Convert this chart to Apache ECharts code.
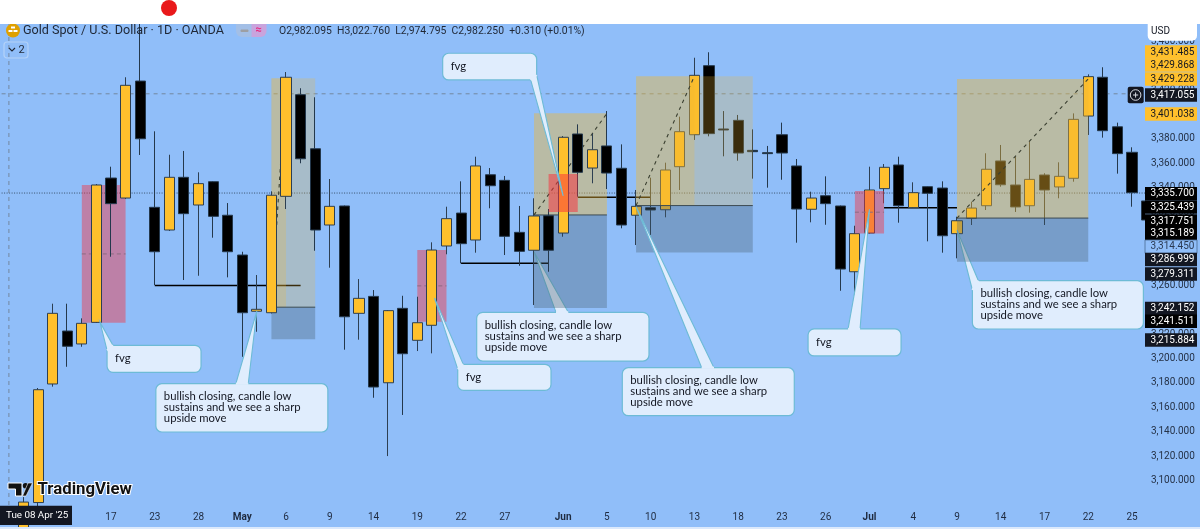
<!DOCTYPE html>
<html><head><meta charset="utf-8">
<style>html,body{margin:0;padding:0;background:#90bef9}#c{width:1200px;height:529px}</style>
<script src="https://cdn.jsdelivr.net/npm/echarts@6/dist/echarts.min.js"></script>
</head><body><div id="c"></div>
<script>
const categories = ['Apr 8','Apr 9','Apr 10','Apr 11','Apr 14','Apr 15','Apr 16','Apr 17','Apr 21','Apr 22','Apr 23','Apr 24','Apr 25','Apr 28','Apr 29','Apr 30','May 1','May 2','May 5','May 6','May 7','May 8','May 9','May 12','May 13','May 14','May 15','May 16','May 19','May 20','May 21','May 22','May 23','May 26','May 27','May 28','May 29','May 30','Jun 2','Jun 3','Jun 4','Jun 5','Jun 6','Jun 9','Jun 10','Jun 11','Jun 12','Jun 13','Jun 16','Jun 17','Jun 18','Jun 19','Jun 20','Jun 23','Jun 24','Jun 25','Jun 26','Jun 27','Jun 30','Jul 1','Jul 2','Jul 3','Jul 4','Jul 7','Jul 8','Jul 9','Jul 10','Jul 11','Jul 14','Jul 15','Jul 16','Jul 17','Jul 18','Jul 21','Jul 22','Jul 23','Jul 24','Jul 25','Jul 28'];
const opens = [2982.1,2982.3,3082,3179.2,3222.6,3212,3229.7,3348,3331.6,3427.5,3324,3305.4,3348.6,3325.9,3345,3317.5,3284.9,3238.8,3237.6,3333,3416.3,3372,3309.5,3325.1,3237.1,3251,3180.2,3241.2,3215,3227.3,3292.3,3319.3,3297.2,3350.7,3346.1,3303.5,3288.8,3317.1,3302.9,3384.1,3356.2,3374.3,3356,3317.5,3323.7,3322,3357.3,3383.5,3440.1,3388.2,3395.3,3370.7,3368.8,3383.5,3357.9,3322.4,3333.5,3325.1,3271.2,3302.9,3339.3,3358.7,3323.7,3340.9,3339.8,3302.4,3315,3325.3,3362,3342.3,3325.3,3350.5,3340.7,3347.8,3398.8,3430.6,3390,3369.1,3329.2];
const closes = [2982.25,3082.4,3174.5,3237.1,3210.1,3228.9,3342.3,3327,3424,3380.2,3287.6,3348.6,3318.8,3343.4,3316.6,3287.6,3237.6,3240.4,3333.9,3430.6,3363.8,3305.4,3324.8,3234.3,3249.4,3176.7,3239.3,3204,3229.4,3289,3314.7,3294.2,3357.9,3341.7,3300.2,3287.9,3316.9,3288.8,3381.4,3352.7,3371.2,3352.1,3309.5,3324.8,3321.8,3354.6,3386,3432.2,3384.4,3387.4,3368.5,3369.6,3368,3368.5,3322.6,3331.6,3327,3273.4,3302.4,3338.2,3356.8,3325.3,3336,3335.5,3300.7,3313,3323.4,3355.2,3342.5,3324.3,3346.9,3338.2,3349.4,3396.1,3431.1,3386.8,3368,3336,3313.6];
const lows = [2974.8,2970,3072,3177,3193.3,3209.7,3229.2,3283.5,3330.8,3366.9,3260.3,3304.6,3264.4,3267.9,3299.1,3266.6,3201.5,3222,3237,3322.6,3360.1,3288.4,3274.5,3207.3,3215.5,3167.9,3120.1,3153.8,3206.2,3204.3,3285.5,3278.1,3286.8,3323.2,3284.9,3276.1,3243.9,3271.2,3299.9,3332.7,3343.7,3339,3306.8,3293.1,3301.3,3315.8,3338.2,3379.2,3382.2,3365.8,3362.2,3347.5,3340.1,3346.6,3295,3311.7,3309.7,3255.6,3244.5,3302.5,3327.3,3311.4,3323.5,3296.1,3286.8,3282.2,3309.5,3321.8,3340.9,3320.2,3319.6,3309.5,3331.4,3345,3383.3,3381.1,3351.6,3324.5,3310];
const highs = [3022.8,3086.5,3175.9,3245,3245,3233,3343.1,3357.3,3430.6,3500,3386.3,3367.1,3370.2,3352.7,3345.5,3327.5,3287.6,3268.5,3337.1,3434.9,3421.6,3414.2,3347.2,3325.5,3265.2,3256.2,3239.8,3251.5,3250.7,3295.3,3324.5,3345.3,3365.5,3356.2,3349.7,3325.1,3331.4,3322.6,3382.4,3392,3384.4,3402.9,3375.6,3338.2,3348.3,3360.6,3398.3,3446.6,3451.1,3402.9,3399.7,3387.9,3374.3,3393.4,3363.6,3336.8,3349.4,3325.5,3308.9,3357.3,3359.5,3365.5,3344.5,3341.2,3345.3,3316.3,3328.6,3368.3,3375.1,3365.5,3377.8,3351.9,3360.9,3401,3433,3438.8,3393.4,3373.2,3335];
const tickCategories = ['Apr 17','Apr 23','Apr 28','May 1','May 6','May 9','May 14','May 19','May 22','May 27','Jun 2','Jun 5','Jun 10','Jun 13','Jun 18','Jun 23','Jun 26','Jul 1','Jul 4','Jul 9','Jul 14','Jul 17','Jul 22','Jul 25'];
const tickTexts = ['17','23','28','May','6','9','14','19','22','27','Jun','5','10','13','18','23','26','Jul','4','9','14','17','22','25'];
// zones: [first bar, last bar, upper price, lower price]
const fvgBack = [[5,8,3342.3,3229.4],[28,30,3289,3230.2]];
const fvgFront = [[37,39,3351.3,3320.2],[58,60,3337.4,3302.5]];
const fvgMid = [[5,8,3285.8],[28,30,3259.6],[58,60,3320]];
// positions: [first bar, last bar, filled-to bar, target, entry, stop]
const positionsBack = [[18,21,19,3429.868,3242.152,3215.884],[36,41,41,3401.038,3317.751,3241.511]];
const positionsFront = [[43,51,47,3431.485,3325.439,3286.999],[65,74,74,3429.228,3315.189,3279.311]];
const levels = [[10,20,3260],[31,37,3278.1],[39,44,3332.2],[60,65,3323.7]];
const crosshairPrice = 3417.055, lastPrice = 3335.7, crosshairBar = 0;
const tagTexts = ['3,431.485','3,429.868','3,429.228','3,417.055','3,401.038','3,335.700','3,325.439','3,317.751','3,315.189','3,314.450','3,286.999','3,279.311','3,242.152','3,241.511','3,215.884'];
const noteTexts = ['fvg','bullish closing, candle low\nsustains and we see a sharp\nupside move','fvg','bullish closing, candle low\nsustains and we see a sharp\nupside move','bullish closing, candle low\nsustains and we see a sharp\nupside move','fvg','fvg','bullish closing, candle low\nsustains and we see a sharp\nupside move'];
const noteBars = [6.25,17,38,36,43,59,29.18,65];
const notePrices = [3229.7,3239,3333.3,3287.6,3324.5,3322.4,3249.6,3305.4];
const headerTitle = 'Gold Spot / U.S. Dollar · 1D · OANDA';
const headerOhlc = 'O2,982.095  H3,022.760  L2,974.795  C2,982.250  +0.310 (+0.01%)';

// ---- layout & style, not data ----
const FONT = 'Roboto, "Noto Sans", sans-serif';
const NOTE = 'Lato, Roboto, sans-serif';
const BG = '#90bef9', UP = '#ffc02c', INK = '#131722';
const noteLayout = [
 {b:[7,23,94,27],t:[[7,28],[13,23]]},
 {b:[-101,72.7,172,48.3],t:[[-21,72.7],[-8.6,72.7]]},
 {b:[-120.5,-142.7,94,26.7],t:[[-32.5,-116],[-26.5,-121]]},
 {b:[-57.3,60.6,172.3,48.7],t:[[22,60.6],[34.3,60.6]]},
 {b:[-13.8,161,172,48],t:[[65.6,161],[77.9,161]]},
 {b:[-61.4,119.7,93,27],t:[[-21.4,119.7],[-9.4,119.7]]},
 {b:[23.2,66.3,93.3,26],t:[[23.2,71],[28.8,66.3]]},
 {b:[15.4,50.7,171,48.3],t:[[15.4,60],[21.4,50.7]]}
];
const tagLayout = [
 [52,'a'],[65,'a'],[79,'a'],[95,'d'],[114,'a'],[193.6,'k'],[207,'k'],[221,'k'],[233.3,'k'],[246.7,'b'],[259.5,'n'],[274,'n'],[308.5,'n'],[321.2,'k'],[340,'n']
];
function rectEl(api, k1, k2, p1, p2, fill) {
  const a = api.coord([k1, p1]), b = api.coord([k2, p2]);
  return {type:'rect', shape:{x:a[0], y:a[1], width:b[0]-a[0], height:b[1]-a[1]}, style:{fill}};
}
function lineEl(api, k1, p1, k2, p2, stroke, width, dash) {
  const a = api.coord([k1, p1]), b = api.coord([k2, p2]);
  return {type:'line', shape:{x1:a[0], y1:a[1], x2:b[0], y2:b[1]}, style:{stroke, lineWidth:width, lineDash:dash||null, fill:null}};
}
function custom(data, z, render) {
  return {type:'custom', xAxisIndex:1, yAxisIndex:0, z, silent:true, animation:false, data:data.map((d,i)=>[i]), clip:true,
    renderItem:(p, api) => render(data[p.dataIndex], api, p.dataIndex)};
}
const zoneSeries = (zones, z, fill) => custom(zones, z, (d, api) => rectEl(api, d[0], d[1], d[2], d[3], fill));
const AMBER = 'rgba(243,186,50,0.24)', STOP = 'rgba(75,98,112,0.35)';
const posSeries = (arr, z) => custom(arr, z, (d, api) => ({type:'group', children:[
  rectEl(api, d[0], d[1], d[3], d[4], AMBER),
  rectEl(api, d[0], d[2], d[3], d[4], AMBER),
  rectEl(api, d[0], d[1], d[4], d[5], STOP),
  lineEl(api, d[0], d[4], d[1], d[4], '#3c4a52', 1)
]}));
const diagSeries = (arr, z) => custom(arr, z, (d, api) => lineEl(api, d[0], d[4], d[2], d[3], '#3a3f30', 1.1, [3.5,4]));
function noteSeries(ids, z) {
  return custom(ids, z, (i, api) => {
    const tip = api.coord([noteBars[i], notePrices[i]]), L = noteLayout[i];
    const bx = tip[0]+L.b[0], by = tip[1]+L.b[1];
    const p1 = [tip[0]+L.t[0][0], tip[1]+L.t[0][1]], p2 = [tip[0]+L.t[1][0], tip[1]+L.t[1][1]];
    const FILL = '#e0edfd', EDGE = '#6dbbd6';
    return {type:'group', children:[
      {type:'rect', shape:{x:bx, y:by, width:L.b[2], height:L.b[3], r:6}, style:{fill:FILL, stroke:EDGE, lineWidth:1.2}},
      {type:'polygon', shape:{points:[p1, tip, p2]}, style:{fill:FILL, stroke:null}},
      {type:'polyline', shape:{points:[p1, tip, p2]}, style:{fill:null, stroke:EDGE, lineWidth:1.1}},
      {type:'line', shape:{x1:p1[0], y1:p1[1], x2:p2[0], y2:p2[1]}, style:{stroke:FILL, lineWidth:2.2}},
      {type:'text', style:{x:bx+8, y:by+7.5, text:noteTexts[i], fill:INK, font:'11.3px '+NOTE, lineHeight:11, textVerticalAlign:'top'}}
    ]};
  });
}

// graphic furniture
const g = [];
g.push({type:'rect', z:100, shape:{x:1145, y:0, width:55, height:529}, style:{fill:BG}});
g.push({type:'rect', z:130, shape:{x:0, y:0, width:1200, height:24}, style:{fill:'#fff'}});
g.push({type:'circle', z:131, shape:{cx:169, cy:8, r:8}, style:{fill:'#e9191b'}});
g.push({type:'rect', z:130, shape:{x:0, y:527, width:1200, height:2}, style:{fill:'#dbe9fc'}});
g.push({type:'circle', z:120, shape:{cx:13, cy:30.5, r:7}, style:{fill:'#dfa000'}});
g.push({type:'rect', z:121, shape:{x:11, y:26.5, width:4, height:2}, style:{fill:'#fff'}});
g.push({type:'rect', z:121, shape:{x:8.5, y:30, width:4, height:2}, style:{fill:'#fff'}});
g.push({type:'rect', z:121, shape:{x:13.5, y:30, width:4, height:2}, style:{fill:'#fff'}});
g.push({type:'text', z:120, style:{x:23, y:31, text:headerTitle, fill:'#1f2735', font:'12.6px '+FONT, textVerticalAlign:'middle'}});
g.push({type:'rect', z:120, shape:{x:236, y:24, width:15.5, height:13, r:[0,0,0,6]}, style:{fill:'#a3bfe6'}});
g.push({type:'rect', z:120, shape:{x:251.5, y:24, width:15, height:13, r:[0,0,6,0]}, style:{fill:'#c9a4dd'}});
g.push({type:'rect', z:121, shape:{x:240.5, y:29.5, width:8, height:2.5, r:1}, style:{fill:'#9d9fa3'}});
g.push({type:'text', z:121, style:{x:258.5, y:30, text:'≈', fill:'#e9277f', font:'bold 11px '+FONT, textAlign:'center', textVerticalAlign:'middle'}});
g.push({type:'text', z:120, style:{x:279, y:31, text:headerOhlc, fill:'#1f2735', font:'10.4px '+FONT, textVerticalAlign:'middle'}});
g.push({type:'rect', z:120, shape:{x:4, y:42, width:24, height:16, r:3}, style:{fill:null, stroke:'#b4d2f8', lineWidth:1.2}});
g.push({type:'polyline', z:120, shape:{points:[[9,48],[12,51],[15,48]]}, style:{fill:null, stroke:'#1f2735', lineWidth:1.1}});
g.push({type:'text', z:120, style:{x:18.5, y:50, text:'2', fill:'#1f2735', font:'11px '+FONT, textVerticalAlign:'middle'}});
g.push({type:'polygon', z:120, shape:{points:[[8,483],[22,483],[22,496],[15.5,496],[15.5,489],[8,489]]}, style:{fill:'#111', stroke:'#fff', lineWidth:1}});
g.push({type:'circle', z:120, shape:{cx:25.5, cy:485.8, r:2.7}, style:{fill:'#111'}});
g.push({type:'polygon', z:120, shape:{points:[[22.5,496],[26,496],[32.5,483],[28,483]]}, style:{fill:'#111', stroke:'#fff', lineWidth:.6}});
g.push({type:'text', z:120, style:{x:37.5, y:489.5, text:'TradingView', fill:'#111', font:'bold 16.8px '+FONT, stroke:'#fff', lineWidth:2, textVerticalAlign:'middle'}});
g.push({type:'rect', z:120, shape:{x:0, y:505.7, width:72, height:19.3}, style:{fill:INK}});
g.push({type:'text', z:121, style:{x:6, y:516, text:"Tue 08 Apr '25", fill:'#fff', font:'9.8px '+FONT, textVerticalAlign:'middle'}});
g.push({type:'rect', z:120, shape:{x:1147.7, y:24, width:49.3, height:16.7, r:[0,0,5,5]}, style:{fill:'#fff'}});
g.push({type:'text', z:121, style:{x:1151, y:31, text:'USD', fill:INK, font:'10px '+FONT, textVerticalAlign:'middle'}});
g.push({type:'rect', z:120, shape:{x:1127.7, y:86.7, width:16, height:16.5, r:2}, style:{fill:INK}});
g.push({type:'circle', z:121, shape:{cx:1135.6, cy:95, r:5.3}, style:{fill:null, stroke:'#d8dbe2', lineWidth:1}});
g.push({type:'line', z:121, shape:{x1:1133, y1:95, x2:1138.2, y2:95}, style:{stroke:'#d8dbe2', lineWidth:1}});
g.push({type:'line', z:121, shape:{x1:1135.6, y1:92.4, x2:1135.6, y2:97.6}, style:{stroke:'#d8dbe2', lineWidth:1}});
const tagStyle = {a:[UP,INK], k:['#000','#fff'], n:[INK,'#fff'], d:[INK,'#fff'], b:[BG,'#2b3a52']};
tagTexts.forEach((t, i) => {
  const [cy, s] = tagLayout[i], h = 13.4;
  g.push({type:'rect', z:120, shape:{x:1145, y:cy-h/2, width:52, height:h}, style:{fill:tagStyle[s][0], stroke:s==='b'?'#4a6a92':null, lineWidth:.8}});
  g.push({type:'text', z:121, style:{x:1172.5, y:cy, text:t, fill:tagStyle[s][1], font:'10px '+FONT, textAlign:'center', textVerticalAlign:'middle'}});
});

const option = {
  animation:false, backgroundColor:BG,
  grid:{left:1.6, top:24, width:79*14.586, height:481, containLabel:false, outerBoundsMode:'none'},
  xAxis:[
    {type:'category', data:categories, boundaryGap:true, axisLine:{show:false}, axisTick:{show:false}, splitLine:{show:false},
     axisLabel:{interval:0, margin:7, hideOverlap:false, color:'#1f2b40', fontFamily:'Roboto', fontSize:10,
       formatter:v => { const i = tickCategories.indexOf(v); if (i<0) return ''; const t = tickTexts[i]; return /[A-Z]/.test(t) ? '{m|'+t+'}' : t; },
       rich:{m:{fontWeight:'bold', color:'#1f2b40', fontFamily:'Roboto', fontSize:10}}}},
    {type:'value', min:-0.5, max:78.5, show:false, splitLine:{show:false}}
  ],
  yAxis:[{type:'value', position:'right', min:3080, max:3474.26, interval:20, z:110, scale:true, axisLine:{show:false}, axisTick:{show:false}, splitLine:{show:false},
    axisLabel:{margin:-3, align:'left', color:'#253247', fontFamily:'Roboto', fontSize:10, showMaxLabel:false, showMinLabel:false,
      formatter:v => v.toLocaleString('en-US') + '.000'}}],
  graphic:{elements:g},
  series:[
    custom([0], 1, (d, api) => ({type:'group', children:[
      lineEl(api, -0.5, crosshairPrice, 76.8, crosshairPrice, '#7388a0', 1, [4,4]),
      lineEl(api, -0.5, lastPrice, 78, lastPrice, '#39506b', 1, [1,1.5]),
      lineEl(api, crosshairBar, 3080, crosshairBar, 3474, '#7388a0', 1, [4,4])
    ]})),
    custom(levels, 2, (d, api) => lineEl(api, d[0], d[2], d[1], d[2], '#000', 1.5)),
    noteSeries([3], 2.5),
    zoneSeries(fvgBack, 3, 'rgba(242,54,69,0.46)'),
    custom(fvgMid.slice(0,2), 3.1, (d, api) => lineEl(api, d[0], d[2], d[1], d[2], '#8c6a80', 1, [4,3])),
    posSeries(positionsBack, 3.2),
    diagSeries(positionsBack, 4),
    {type:'candlestick', xAxisIndex:0, yAxisIndex:0, z:5, barWidth:10.6, silent:true, clip:true,
     data: categories.map((c,i)=>[opens[i],closes[i],lows[i],highs[i]]),
     itemStyle:{color:UP, color0:'#000', borderColor:'#2d3f52', borderColor0:'#24384c', borderWidth:1}},
    zoneSeries(fvgFront.slice(0,1), 6, 'rgba(250,50,60,0.52)'),
    zoneSeries(fvgFront.slice(1), 6, 'rgba(242,54,69,0.46)'),
    custom(fvgMid.slice(2), 6.1, (d, api) => lineEl(api, d[0], d[2], d[1], d[2], '#8c6a80', 1, [4,3])),
    noteSeries([7], 6.2),
    posSeries(positionsFront, 7),
    diagSeries(positionsFront, 8),
    noteSeries([0,1,2,4,5,6], 9)
  ]
};
const chart = echarts.init(document.getElementById('c'), null, {renderer:'canvas', width:1200, height:529});
chart.setOption(option);
</script></body></html>
